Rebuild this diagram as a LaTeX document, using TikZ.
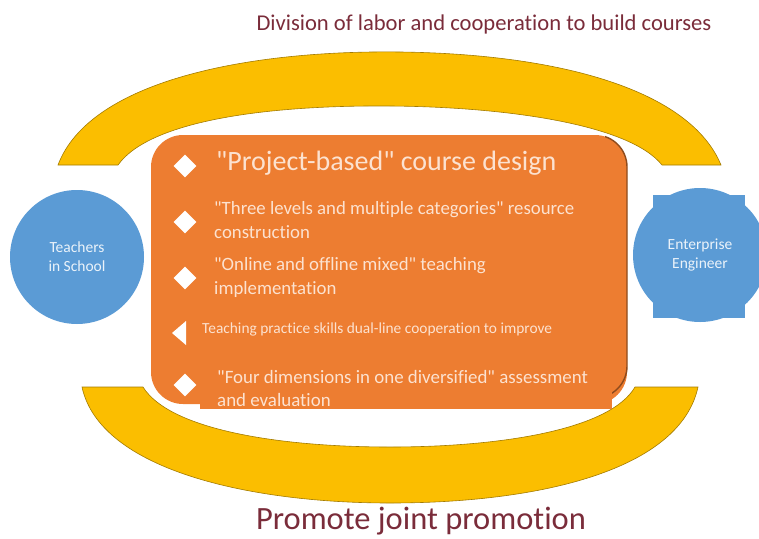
\documentclass[tikz,border=0pt]{standalone}
\usepackage{fontspec}
\setmainfont{Carlito}[Ligatures={TeXOff,NoCommon}]
\usetikzlibrary{shapes.geometric,positioning}
\definecolor{sarga}{RGB}{251,190,0}
\definecolor{narancs}{RGB}{237,125,49}
\definecolor{kek}{RGB}{91,155,213}
\definecolor{bordo}{RGB}{122,44,58}
\definecolor{halvany}{RGB}{252,226,208}
\tikzset{
  iv/.style={fill=sarga,draw=sarga!65!black,line width=0.6pt},
  kor/.style={circle,fill=kek,minimum size=134pt,inner sep=0pt,align=center,
    text=white!88!kek,font=\fontsize{15.5}{19}\selectfont},
  rombusz/.style={diamond,fill=white,inner sep=0pt,minimum size=23pt},
  sor/.style={anchor=west,align=left,text=halvany,inner sep=0pt},
  cim/.style={text=bordo,inner sep=0pt},
}

\begin{document}
\begin{tikzpicture}[x=1pt,y=-1pt]
  \useasboundingbox (0,0) rectangle (759,538);
  % upper and lower arcs
  \draw[iv] (58,165) .. controls (90,80) and (250,50) .. (400,52)
    .. controls (560,54) and (690,90) .. (721,165) -- (662,165)
    .. controls (630,125) and (510,107) .. (390,106)
    .. controls (270,105) and (150,120) .. (118,165) -- cycle;
  \draw[iv] (82,387) .. controls (100,470) and (250,503) .. (390,503)
    .. controls (540,503) and (680,470) .. (698,387) -- (635,387)
    .. controls (610,430) and (500,447) .. (390,447)
    .. controls (280,447) and (170,430) .. (143,387) -- cycle;
  % the orange panel
  \fill[narancs,rounded corners=32pt] (151,135) rectangle (627,404);
  \begin{scope}
    \clip (605,0) rectangle (640,538);
    \draw[narancs!60!black,line width=1.4pt,rounded corners=32pt]
      (151,135) rectangle (627,398);
  \end{scope}
  \fill[narancs] (200,360) rectangle (612,409);
  % the two partners
  \node[kor] (tanar) at (77,257) {Teachers\\in School};
  \fill[kek] (653,195) rectangle (745,318);
  \node[kor] (mernok) at (700,255) {Enterprise\\Engineer};
  % items
  \node[rombusz] (r1) at (185,166) {};
  \node[sor,font=\fontsize{28}{32}\selectfont] (t1) at (216,163)
    {"Project-based" course design};
  \node[rombusz] (r2) at (185,222) {};
  \node[sor,font=\fontsize{18.8}{24}\selectfont] (t2) at (214,220)
    {"Three levels and multiple categories" resource\\construction};
  \node[rombusz] (r3) at (185,278) {};
  \node[sor,font=\fontsize{18.8}{24}\selectfont] (t3) at (214,277)
    {"Online and offline mixed" teaching\\implementation};
  \fill[white] (172,333) -- (186,321) -- (186,345) -- cycle;
  \node[sor,font=\fontsize{15.4}{17}\selectfont] (t4) at (202,329)
    {Teaching practice skills dual-line cooperation to improve};
  \node[rombusz] (r5) at (185,385) {};
  \node[sor,font=\fontsize{18.9}{23}\selectfont] (t5) at (217,389)
    {"Four dimensions in one diversified" assessment\\and evaluation};
  % headings
  \node[cim,font=\fontsize{22.6}{26}\selectfont] (fent) at (484,24)
    {Division of labor and cooperation to build courses};
  \node[cim,font=\fontsize{32.5}{36}\selectfont] (lent) at (421,521)
    {Promote joint promotion};
\end{tikzpicture}
\end{document}
